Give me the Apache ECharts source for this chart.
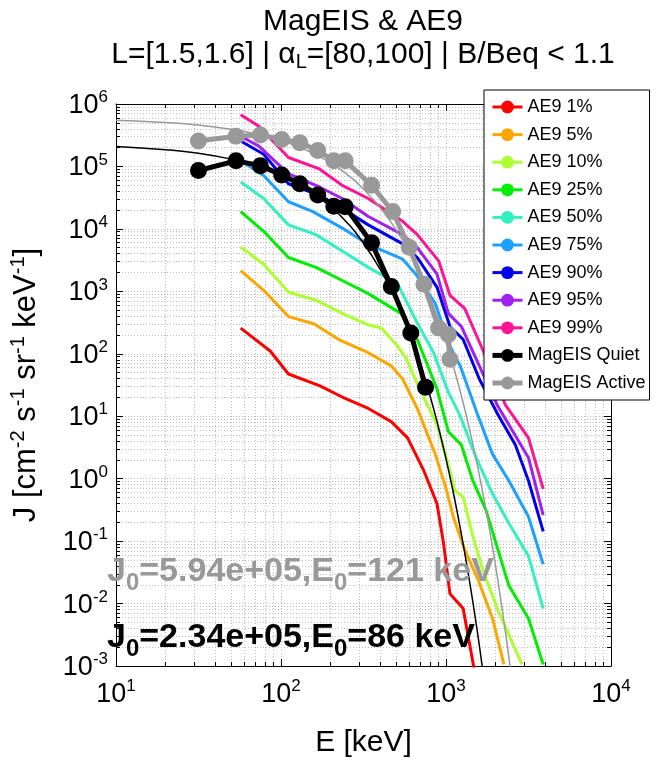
<!DOCTYPE html>
<html><head><meta charset="utf-8">
<script src="https://cdn.jsdelivr.net/npm/echarts@6/dist/echarts.min.js"></script>
<style>html,body{margin:0;padding:0;background:#fff}#c{width:670px;height:763px}</style>
</head><body><div id="c"></div>
<script>
const FONT = "'Liberation Sans',Arial,sans-serif";
const FONT_B = "'Liberation Sans',Arial,sans-serif";

// tick label exponents
const xTickExps = [1, 2, 3, 4];
const yTickExps = [-3, -2, -1, 0, 1, 2, 3, 4, 5, 6];

// AE9 percentile curves (E in keV, J in cm^-2 s^-1 sr^-1 keV^-1)
const ae9_p01_E = [57, 86, 111, 171, 235, 338, 466, 585, 735, 881, 966, 989, 1057, 1271, 1480];
const ae9_p01_J = [258, 111, 47.4, 31.0, 20.3, 13.3, 8.2, 4.5, 1.33, 0.40, 0.093, 0.0575, 0.0143, 0.0083, 0.0009];
const ae9_p05_E = [57, 78.5, 111, 158, 224, 338, 466, 546, 670, 861, 1009, 1107, 1297, 1560, 1914, 2244];
const ae9_p05_J = [2140, 1040, 394, 302, 169, 104, 64, 39.5, 13.3, 2.47, 0.646, 0.246, 0.0733, 0.0246, 0.00578, 0.00106];
const ae9_p10_E = [57, 78.5, 111, 163, 235, 338, 406, 509, 571, 670, 881, 1057, 1132, 1271, 1455, 1667, 2046, 2884];
const ae9_p10_J = [5120, 2720, 975, 721, 444, 291, 258, 132, 87, 33.1, 7.26, 1.33, 0.646, 0.507, 0.119, 0.0354, 0.0083, 0.00106];
const ae9_p25_E = [57, 78.5, 111, 163, 235, 338, 533, 670, 881, 1033, 1239, 1455, 1746, 2404, 3162, 3882];
const ae9_p25_J = [18900, 9160, 3480, 2420, 1490, 918, 444, 169, 27.5, 5.7, 3.48, 0.927, 0.313, 0.0194, 0.00578, 0.00106];
const ae9_p50_E = [57, 78.5, 111, 163, 235, 338, 509, 655, 841, 1033, 1213, 1524, 1914, 2404, 3162, 3882];
const ae9_p50_J = [56200, 30700, 11600, 8090, 4420, 2420, 1320, 349, 104, 24.3, 10.4, 2.17, 0.573, 0.193, 0.0575, 0.0083];
const ae9_p75_E = [57, 78.5, 111, 156, 235, 338, 546, 655, 861, 1057, 1219, 1531, 1914, 2404, 3162, 3882];
const ae9_p75_J = [123000, 71400, 27200, 18900, 10300, 5640, 3270, 1900, 638, 132, 64.1, 11.8, 2.47, 0.927, 0.246, 0.0425];
const ae9_p90_E = [57, 78.5, 111, 171, 235, 338, 533, 670, 881, 1057, 1271, 1592, 2046, 2630, 3162, 3882];
const ae9_p90_J = [255000, 157000, 52800, 34600, 21300, 11600, 5980, 3480, 1170, 274, 169, 39.5, 11.1, 3.48, 0.927, 0.143];
const ae9_p95_E = [57, 73.5, 111, 171, 235, 338, 546, 670, 881, 1033, 1239, 1592, 2046, 3162, 3882];
const ae9_p95_J = [305000, 212000, 76000, 46900, 30700, 15800, 8090, 5000, 1900, 444, 274, 64.1, 15.0, 2.17, 0.261];
const ae9_p99_E = [57, 73.5, 111, 171, 235, 338, 546, 670, 902, 1057, 1297, 1667, 2296, 3162, 3882];
const ae9_p99_J = [671000, 439000, 139000, 91200, 49700, 30700, 13200, 8090, 3080, 865, 532, 117, 15.0, 4.49, 0.687];

// MagEIS measurements
const quiet_E = [31.6, 53.4, 75, 101, 130, 167, 209, 245, 354, 466, 612, 752];
const quiet_J = [86000, 123000, 103000, 73000, 53000, 35000, 23000, 22700, 6000, 1200, 215, 29];
const active_E = [31.6, 53.4, 75, 101, 130, 167, 209, 245, 354, 475, 598, 735, 902, 1033, 1057];
const active_J = [255000, 305000, 320000, 270000, 240000, 180000, 123000, 123000, 50000, 19000, 5100, 1300, 258, 203, 82];

// fitted spectra (thin lines)
const fitQuiet_E = [10, 20, 30, 50, 75, 100, 150, 200, 250, 300, 400, 500, 600, 700, 800, 900, 1000, 1100, 1200, 1300, 1400, 1500, 1600, 1700];
const fitQuiet_J = [208000, 185000, 165000, 131000, 97800, 73200, 40900, 22900, 12800, 7150, 2230, 698, 218, 68.2, 21.3, 6.67, 2.08, 0.652, 0.204, 0.0637, 0.0199, 0.00622, 0.00195, 0.00061];
const fitActive_E = [10, 20, 30, 50, 75, 100, 150, 200, 250, 300, 400, 500, 600, 700, 800, 1000, 1200, 1400, 1600, 1800, 2000, 2200, 2400, 2500];
const fitActive_J = [547000, 504000, 464000, 393000, 320000, 260000, 172000, 114000, 75300, 49800, 21800, 9530, 4170, 1830, 799, 153, 29.3, 5.61, 1.07, 0.205, 0.0393, 0.00753, 0.00144, 0.00063];

const ae9Names = ['AE9 1%', 'AE9 5%', 'AE9 10%', 'AE9 25%', 'AE9 50%', 'AE9 75%', 'AE9 90%', 'AE9 95%', 'AE9 99%'];
const ae9Colors = ['#ff0000', '#ffa500', '#adff2f', '#00ee00', '#33f0c0', '#1ea0ff', '#0000ee', '#a020f0', '#ff1493'];
const ae9E = [ae9_p01_E, ae9_p05_E, ae9_p10_E, ae9_p25_E, ae9_p50_E, ae9_p75_E, ae9_p90_E, ae9_p95_E, ae9_p99_E];
const ae9J = [ae9_p01_J, ae9_p05_J, ae9_p10_J, ae9_p25_J, ae9_p50_J, ae9_p75_J, ae9_p90_J, ae9_p95_J, ae9_p99_J];

const zip = (a, b) => a.map((v, i) => [v, b[i]]);

const series = [];
ae9Names.forEach((n, i) => {
  series.push({
    name: n, type: 'line', data: zip(ae9E[i], ae9J[i]), symbol: 'none',
    lineStyle: { color: ae9Colors[i], width: 3 }, itemStyle: { color: ae9Colors[i] },
    clip: true, z: 2
  });
});
series.push({ name: 'fitQuiet', type: 'line', data: zip(fitQuiet_E, fitQuiet_J), symbol: 'none', smooth: true,
  lineStyle: { color: '#000', width: 1.5 }, clip: true, z: 3, silent: true });
series.push({ name: 'fitActive', type: 'line', data: zip(fitActive_E, fitActive_J), symbol: 'none', smooth: true,
  lineStyle: { color: '#999', width: 1.5 }, clip: true, z: 3, silent: true });
series.push({ name: 'MagEIS Quiet', type: 'line', data: zip(quiet_E, quiet_J), symbol: 'circle', symbolSize: 17,
  lineStyle: { color: '#000', width: 5 }, itemStyle: { color: '#000' }, clip: true, z: 4 });
series.push({ name: 'MagEIS Active', type: 'line', data: zip(active_E, active_J), symbol: 'circle', symbolSize: 17,
  lineStyle: { color: '#999', width: 5 }, itemStyle: { color: '#999' }, clip: true, z: 5 });

const supRich = {
  b: { fontSize: 27, fontFamily: FONT, color: '#000', lineHeight: 30, verticalAlign: 'bottom' },
  s: { fontSize: 17, fontFamily: FONT, color: '#000', lineHeight: 17, verticalAlign: 'top' }
};
const powLabel = v => { const e = Math.round(Math.log10(v)); return '{b|10}{s|' + e + '}'; };

const grid = { left: 106, right: 59, top: 104, bottom: 88, containLabel: false };
const gridLine = { show: true, lineStyle: { color: '#bdbdbd', type: [1, 2], width: 1 } };

const legendData = ae9Names.map(n => ({ name: n }))
  .concat([{ name: 'MagEIS Quiet' }, { name: 'MagEIS Active' }]);

const option = {
  backgroundColor: '#fff',
  animation: false,
  title: [
    { text: 'MagEIS & AE9', left: 358, top: 2, textAlign: 'center',
      textStyle: { fontFamily: FONT, fontSize: 30, fontWeight: 'normal', color: '#000' } },
    { text: 'L=[1.5,1.6] | α{sub|L}=[80,100] | B/Beq < 1.1', left: 358, top: 33, textAlign: 'center',
      textStyle: { fontFamily: FONT, fontSize: 30, fontWeight: 'normal', color: '#000',
        rich: { sub: { fontFamily: FONT, fontSize: 20, verticalAlign: 'bottom', padding: [14, 0, 0, 0] } } } }
  ],
  grid: grid,
  legend: {
    data: legendData,
    orient: 'vertical', left: 484, top: 90,
    itemWidth: 30, itemHeight: 16, itemGap: 5.6,
    padding: [6, 4, 6, 6],
    backgroundColor: '#fff', borderColor: '#000', borderWidth: 1, borderRadius: 0,
    lineStyle: { width: 'inherit' },
    textStyle: { fontFamily: FONT, fontSize: 18, color: '#000', lineHeight: 22 },
    selectedMode: false
  },
  xAxis: [
    { type: 'log', logBase: 10, min: 10, max: 10000, splitNumber: 3, gridIndex: 0,
      name: 'E [keV]', nameLocation: 'middle', nameGap: 62,
      nameTextStyle: { fontFamily: FONT, fontSize: 30, color: '#000' },
      axisLine: { show: true, onZero: false, lineStyle: { color: '#000', width: 1 } },
      axisTick: { show: true, inside: true, length: 7, lineStyle: { color: '#000' } },
      minorTick: { show: true, splitNumber: 9, length: 4, lineStyle: { color: '#000' } },
      axisLabel: { formatter: powLabel, rich: supRich, margin: 12 },
      splitLine: gridLine, minorSplitLine: gridLine },
    { type: 'log', logBase: 10, min: 10, max: 10000, splitNumber: 3, position: 'top', gridIndex: 0,
      axisLine: { show: true, onZero: false, lineStyle: { color: '#000', width: 1 } },
      axisTick: { show: true, inside: true, length: 7, lineStyle: { color: '#000' } },
      minorTick: { show: true, splitNumber: 9, length: 4, lineStyle: { color: '#000' } },
      axisLabel: { show: false }, splitLine: { show: false } }
  ],
  yAxis: [
    { type: 'log', logBase: 10, min: 0.001, max: 1e6, splitNumber: 9, gridIndex: 0,
      name: '{t|J [cm}{s|-2}{t| s}{s|-1}{t| sr}{s|-1}{t| keV}{s|-1}{t|]}',
      nameLocation: 'middle', nameGap: 74, nameRotate: 90,
      nameTextStyle: { rich: {
        t: { fontFamily: FONT, fontSize: 31, color: '#000', lineHeight: 34, verticalAlign: 'bottom' },
        s: { fontFamily: FONT, fontSize: 20, color: '#000', lineHeight: 20, verticalAlign: 'top' } } },
      axisLine: { show: true, onZero: false, lineStyle: { color: '#000', width: 1 } },
      axisTick: { show: true, inside: true, length: 7, lineStyle: { color: '#000' } },
      minorTick: { show: true, splitNumber: 9, length: 4, lineStyle: { color: '#000' } },
      axisLabel: { formatter: powLabel, rich: supRich, margin: 8 },
      splitLine: gridLine, minorSplitLine: gridLine },
    { type: 'log', logBase: 10, min: 0.001, max: 1e6, splitNumber: 9, position: 'right', gridIndex: 0,
      axisLine: { show: true, onZero: false, lineStyle: { color: '#000', width: 1 } },
      axisTick: { show: true, inside: true, length: 7, lineStyle: { color: '#000' } },
      minorTick: { show: true, splitNumber: 9, length: 4, lineStyle: { color: '#000' } },
      axisLabel: { show: false }, splitLine: { show: false } }
  ],
  graphic: [
    { type: 'text', left: 107, top: 555, z: 100,
      style: { text: '{m|J}{s|0}{m|=5.94e+05,E}{s|0}{m|=121 keV}', rich: {
        m: { fontFamily: FONT_B, fontSize: 34, fontWeight: 'bold', fill: '#999', color: '#999', lineHeight: 40, verticalAlign: 'top' },
        s: { fontFamily: FONT_B, fontSize: 24, fontWeight: 'bold', fill: '#999', color: '#999', lineHeight: 40, verticalAlign: 'bottom', padding: [14, 0, 0, 0] } } } },
    { type: 'text', left: 107, top: 621, z: 100,
      style: { text: '{m|J}{s|0}{m|=2.34e+05,E}{s|0}{m|=86 keV}', rich: {
        m: { fontFamily: FONT_B, fontSize: 34, fontWeight: 'bold', fill: '#000', color: '#000', lineHeight: 40, verticalAlign: 'top' },
        s: { fontFamily: FONT_B, fontSize: 24, fontWeight: 'bold', fill: '#000', color: '#000', lineHeight: 40, verticalAlign: 'bottom', padding: [14, 0, 0, 0] } } } }
  ],
  series: series
};
option.series.forEach(s => { s.xAxisIndex = 0; s.yAxisIndex = 0; });

const chart = echarts.init(document.getElementById('c'), null, { renderer: 'canvas' });
chart.setOption(option);
</script></body></html>
